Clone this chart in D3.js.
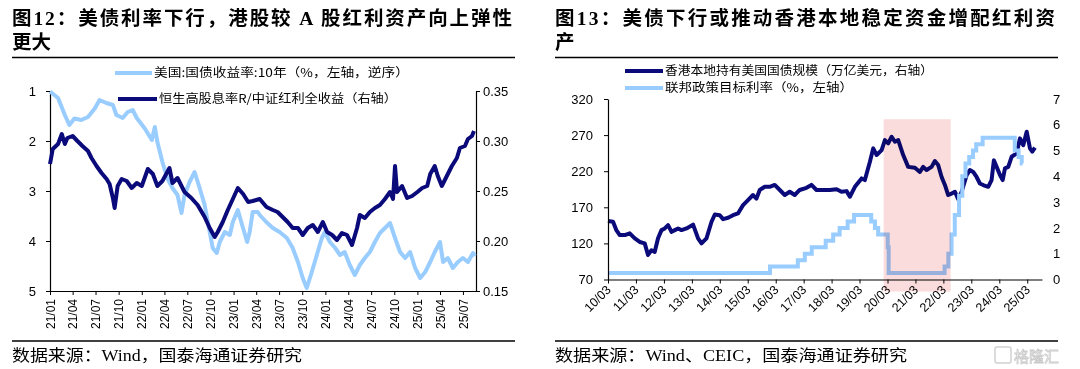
<!DOCTYPE html>
<html>
<head>
<meta charset="utf-8">
<script src="https://cdn.jsdelivr.net/npm/d3@7"></script>
<style>
body { margin: 0; background: #fff; }
svg text { font-family: "Liberation Sans", Arial, sans-serif; fill: #000; }
.cjk { font-family: "Noto Sans CJK SC", sans-serif; }
.title { font-family: "Liberation Serif", "Noto Sans CJK SC", serif; font-weight: bold; }
</style>
</head>
<body>
<svg id="chart" width="1080" height="369"></svg>
<script>
// ---- left chart data ----
var us10y = [
  ["2021-01-01",1.01],["2021-02-02",1.14],["2021-03-01",1.48],["2021-03-19",1.68],["2021-04-08",1.55],
  ["2021-05-05",1.58],["2021-06-01",1.52],["2021-06-28",1.35],["2021-07-17",1.18],["2021-08-13",1.24],
  ["2021-09-08",1.28],["2021-09-22",1.48],["2021-10-17",1.54],["2021-11-06",1.42],["2021-11-26",1.38],
  ["2021-12-12",1.54],["2022-01-13",1.75],["2022-02-10",1.98],["2022-02-22",1.72],["2022-03-04",2.02],
  ["2022-03-24",2.42],["2022-04-13",2.75],["2022-05-03",2.94],["2022-05-23",3.08],["2022-06-08",3.44],
  ["2022-06-20",3.08],["2022-07-10",2.82],["2022-07-30",2.62],["2022-08-19",2.94],["2022-09-08",3.28],
  ["2022-09-28",3.82],["2022-10-10",4.14],["2022-10-26",4.24],["2022-11-07",4.02],["2022-11-27",3.82],
  ["2022-12-17",3.88],["2022-12-29",3.62],["2023-01-18",3.38],["2023-02-04",3.68],["2023-02-24",4.02],
  ["2023-03-06",3.82],["2023-03-18",3.42],["2023-04-07",3.42],["2023-04-15",3.48],["2023-05-11",3.62],
  ["2023-06-06",3.74],["2023-07-03",3.82],["2023-08-01",3.94],["2023-08-24",4.14],["2023-09-14",4.42],
  ["2023-10-03",4.74],["2023-10-19",4.94],["2023-11-08",4.62],["2023-11-28",4.28],["2023-12-18",3.94],
  ["2023-12-30",3.82],["2024-01-19",4.02],["2024-02-09",4.14],["2024-02-28",4.28],["2024-03-18",4.22],
  ["2024-04-07",4.48],["2024-04-27",4.68],["2024-05-17",4.48],["2024-06-06",4.34],["2024-06-26",4.22],
  ["2024-07-16",4.02],["2024-08-05",3.84],["2024-08-25",3.74],["2024-09-14",3.64],["2024-10-04",3.94],
  ["2024-10-24",4.22],["2024-11-13",4.34],["2024-12-03",4.22],["2024-12-23",4.54],["2025-01-12",4.74],
  ["2025-02-01",4.62],["2025-02-21",4.42],["2025-03-11",4.22],["2025-04-01",4.02],["2025-04-13",4.42],
  ["2025-05-02",4.34],["2025-05-22",4.54],["2025-06-11",4.42],["2025-07-01",4.34],["2025-07-21",4.42],
  ["2025-08-10",4.24],["2025-08-18",4.30]
];
var yieldRatio = [
  ["2021-01-01",0.277],["2021-01-12",0.292],["2021-02-02",0.297],["2021-02-17",0.307],["2021-03-01",0.297],
  ["2021-03-11",0.303],["2021-04-01",0.305],["2021-04-20",0.300],["2021-05-10",0.295],["2021-06-01",0.290],
  ["2021-06-15",0.283],["2021-07-05",0.275],["2021-07-25",0.268],["2021-08-14",0.262],["2021-08-26",0.257],
  ["2021-09-08",0.243],["2021-09-15",0.233],["2021-09-27",0.255],["2021-10-13",0.262],["2021-11-02",0.260],
  ["2021-11-22",0.253],["2021-12-12",0.258],["2022-01-01",0.255],["2022-01-25",0.272],["2022-02-14",0.267],
  ["2022-03-04",0.255],["2022-03-24",0.260],["2022-04-21",0.273],["2022-05-03",0.258],["2022-05-23",0.263],
  ["2022-06-20",0.249],["2022-07-17",0.243],["2022-08-11",0.236],["2022-09-08",0.224],["2022-09-28",0.213],
  ["2022-10-18",0.204],["2022-10-30",0.209],["2022-11-19",0.219],["2022-12-09",0.231],["2022-12-29",0.242],
  ["2023-01-18",0.253],["2023-02-08",0.247],["2023-02-28",0.239],["2023-03-18",0.240],["2023-04-15",0.242],
  ["2023-05-12",0.234],["2023-06-06",0.231],["2023-06-25",0.229],["2023-07-15",0.224],["2023-08-04",0.219],
  ["2023-08-24",0.213],["2023-09-14",0.213],["2023-10-03",0.206],["2023-10-23",0.213],["2023-11-12",0.216],
  ["2023-12-02",0.209],["2023-12-22",0.219],["2024-01-08",0.209],["2024-01-28",0.206],["2024-02-16",0.201],
  ["2024-03-07",0.208],["2024-03-27",0.206],["2024-04-16",0.196],["2024-05-06",0.213],["2024-05-17",0.226],
  ["2024-06-06",0.223],["2024-06-26",0.229],["2024-07-16",0.233],["2024-08-05",0.236],["2024-08-25",0.242],
  ["2024-09-14",0.249],["2024-09-26",0.242],["2024-10-04",0.275],["2024-10-12",0.249],["2024-11-01",0.255],
  ["2024-11-21",0.243],["2024-12-11",0.245],["2025-01-01",0.249],["2025-01-20",0.253],["2025-02-09",0.255],
  ["2025-02-21",0.267],["2025-03-11",0.275],["2025-03-23",0.265],["2025-04-08",0.255],["2025-04-28",0.265],
  ["2025-05-18",0.275],["2025-06-07",0.283],["2025-06-19",0.293],["2025-07-09",0.295],["2025-07-21",0.302],
  ["2025-08-06",0.305],["2025-08-14",0.310]
];
var leftYTicks = [1, 2, 3, 4, 5];
var leftY2Ticks = [0.15, 0.20, 0.25, 0.30, 0.35];

// ---- right chart data ----
var hkHoldings = [
  ["2010-03-01",151],["2010-05-06",150],["2010-06-20",138],["2010-08-02",131.5],["2010-10-06",131.5],
  ["2010-12-10",134],["2011-02-14",127],["2011-04-20",122],["2011-06-24",120],["2011-08-06",104],
  ["2011-09-20",110.6],["2011-11-02",108.3],["2011-12-15",127],["2012-01-29",138.4],["2012-03-12",140.7],
  ["2012-04-24",145.3],["2012-06-08",136],["2012-07-21",138.4],["2012-09-02",140.7],["2012-10-17",138.4],
  ["2012-12-21",140.7],["2013-03-17",146],["2013-05-21",127],["2013-07-05",120],["2013-09-08",127],
  ["2013-11-13",150],["2013-12-26",160],["2014-03-01",159],["2014-04-13",153.6],["2014-06-17",155.5],
  ["2014-08-21",159],["2014-10-25",161.5],["2014-12-30",173],["2015-03-05",180],["2015-05-09",187],
  ["2015-06-23",182],["2015-08-05",194],["2015-10-09",198.4],["2015-12-13",198.4],["2016-02-17",201],
  ["2016-04-23",194],["2016-06-27",187],["2016-08-31",191.5],["2016-11-04",187],["2017-01-08",194],
  ["2017-04-07",197],["2017-06-11",201],["2017-08-16",194],["2017-09-28",194],["2018-02-06",194],
  ["2018-05-05",195],["2018-07-09",191.5],["2018-09-13",192.4],["2018-10-26",184.6],["2018-12-31",198.4],
  ["2019-03-28",210],["2019-05-10",207.7],["2019-07-15",233],["2019-08-27",251.6],["2019-10-11",242.4],
  ["2019-12-15",249.3],["2020-01-27",263],["2020-03-10",258.6],["2020-04-24",267.7],["2020-06-06",260.8],
  ["2020-07-19",263],["2020-09-22",242.4],["2020-11-26",226],["2021-02-22",224.8],["2021-04-28",219],
  ["2021-06-10",226],["2021-07-24",221.6],["2021-09-28",226],["2021-11-10",234],["2021-12-23",228.5],
  ["2022-02-06",212],["2022-03-21",201],["2022-05-03",187],["2022-06-17",189],["2022-07-30",191.5],
  ["2022-09-11",181.4],["2022-10-26",191.5],["2022-12-30",214.6],["2023-02-11",221.6],["2023-03-26",219],
  ["2023-05-09",212],["2023-06-21",203],["2023-08-03",200.8],["2023-10-08",198.4],["2023-11-21",207.7],
  ["2023-12-21",235],["2024-01-26",226],["2024-03-10",214.6],["2024-04-14",207.7],["2024-05-14",224],
  ["2024-06-26",226],["2024-08-09",240],["2024-10-14",244.7],["2024-11-26",265.5],["2025-01-08",256],
  ["2025-02-22",274.7],["2025-04-06",251.6],["2025-05-06",247],["2025-06-10",252.5]
];
var fedRate = [
  ["2010-03-01",0.25],["2015-12-17",0.5],["2016-12-15",0.75],["2017-03-16",1.0],["2017-06-15",1.25],
  ["2017-12-14",1.5],["2018-03-22",1.75],["2018-06-14",2.0],["2018-09-27",2.25],["2018-12-20",2.5],
  ["2019-08-01",2.25],["2019-09-19",2.0],["2019-10-31",1.75],["2020-03-04",1.25],["2020-03-16",0.25],
  ["2022-03-17",0.5],["2022-05-05",1.0],["2022-06-16",1.75],["2022-07-28",2.5],["2022-09-22",3.25],
  ["2022-11-03",4.0],["2022-12-15",4.5],["2023-02-02",4.75],["2023-03-23",5.0],["2023-05-04",5.25],
  ["2023-07-27",5.5],["2024-09-19",5.0],["2024-11-08",4.75],["2024-12-19",4.5],["2024-12-31",4.5]
];
var shadedPeriod = ["2020-01-10", "2022-06-05"];
var shadedTop = 292;
var rightYTicks = [70, 120, 170, 220, 270, 320];
var rightY2Ticks = [0, 1, 2, 3, 4, 5, 6, 7];
var rightXYears = d3.range(2010, 2026);

var navy = "#0a0a7a", light = "#99ccff";
var parse = d3.timeParse("%Y-%m-%d");
var fmt = d3.timeFormat("%y/%m");

var svg = d3.select("#chart");

function header(x, w, title1, title2) {
  svg.append("text").attr("class", "title").attr("x", x).attr("y", 25)
      .attr("font-size", 19.5).attr("textLength", w).attr("lengthAdjust", "spacing").text(title1);
  svg.append("text").attr("class", "title").attr("x", x).attr("y", 49)
      .attr("font-size", 19.5).text(title2);
  svg.append("line").attr("x1", x).attr("x2", x + w + 3).attr("y1", 57.5).attr("y2", 57.5)
      .attr("stroke", "#000").attr("stroke-width", 1.3);
  svg.append("line").attr("x1", x).attr("x2", x + w + 3).attr("y1", 341).attr("y2", 341)
      .attr("stroke", "#000").attr("stroke-width", 1.3);
}

function legend(x1, x2, y, color, label, tw) {
  svg.append("line").attr("x1", x1).attr("x2", x2).attr("y1", y).attr("y2", y)
      .attr("stroke", color).attr("stroke-width", 4);
  svg.append("text").attr("class", "cjk").attr("x", x2 + 2).attr("y", y + 4)
      .attr("font-size", 12).attr("textLength", tw).attr("lengthAdjust", "spacingAndGlyphs").text(label);
}

function source(x, label, tw) {
  svg.append("text").attr("class", "title").style("font-weight", "normal").attr("x", x).attr("y", 361)
      .attr("font-size", 16).attr("textLength", tw).attr("lengthAdjust", "spacingAndGlyphs").text(label);
}

function styleAxis(g) {
  g.selectAll("path").attr("stroke", "#000").attr("stroke-width", 1.2);
  g.selectAll("line").attr("stroke", "#000");
  g.selectAll("text").attr("font-size", 13).attr("fill", "#000")
      .style("font-family", "'Liberation Sans', Arial, sans-serif");
}

// ================= left chart =================
header(12, 500, "图12：美债利率下行，港股较 A 股红利资产向上弹性", "更大");

var lx = d3.scaleTime().domain([parse("2021-01-01"), parse("2025-08-22")]).range([50, 476]);
var ly = d3.scaleLinear().domain([1, 5]).range([91, 291]);
var ly2 = d3.scaleLinear().domain([0.15, 0.35]).range([291, 91]);

var lxTicks = d3.timeMonth.range(parse("2021-01-01"), parse("2025-07-02"), 3);
var gx = svg.append("g").attr("transform", "translate(0,291)")
    .call(d3.axisBottom(lx).tickValues(lxTicks).tickFormat(fmt).tickSize(4).tickSizeOuter(0));
styleAxis(gx);
gx.selectAll("text").attr("font-size", 12).attr("transform", "rotate(-90)")
    .attr("text-anchor", "end").attr("x", -8).attr("y", 0).attr("dy", "0.35em");

var gy = svg.append("g").attr("transform", "translate(50,0)")
    .call(d3.axisLeft(ly).tickValues(leftYTicks).tickFormat(d3.format("d")).tickSize(4).tickSizeOuter(0));
styleAxis(gy);
gy.selectAll("text").attr("x", -14);

var gy2 = svg.append("g").attr("transform", "translate(476,0)")
    .call(d3.axisRight(ly2).tickValues(leftY2Ticks).tickFormat(d3.format(".2f")).tickSize(4).tickSizeOuter(0));
styleAxis(gy2);
gy2.selectAll("text").attr("x", 7);

var lineL1 = d3.line().x(function(d) { return lx(parse(d[0])); }).y(function(d) { return ly(d[1]); });
var lineL2 = d3.line().x(function(d) { return lx(parse(d[0])); }).y(function(d) { return ly2(d[1]); });

svg.append("path").datum(us10y).attr("d", lineL1).attr("fill", "none")
    .attr("stroke", light).attr("stroke-width", 4).attr("stroke-linejoin", "round");
svg.append("path").datum(yieldRatio).attr("d", lineL2).attr("fill", "none")
    .attr("stroke", navy).attr("stroke-width", 4).attr("stroke-linejoin", "round");

legend(115, 152, 73, light, "美国:国债收益率:10年（%，左轴，逆序）", 255);
legend(118, 157, 99, navy, "恒生高股息率R/中证红利全收益（右轴）", 238);
source(12, "数据来源：Wind，国泰海通证券研究", 290);

// ================= right chart =================
header(555, 500, "图13：美债下行或推动香港本地稳定资金增配红利资", "产");

var rx = d3.scaleTime().domain([parse("2010-03-01"), parse("2025-09-10")]).range([608, 1042]);
var ry = d3.scaleLinear().domain([70, 320]).range([279.5, 99]);
var ry2 = d3.scaleLinear().domain([0, 7]).range([279.5, 99]);

var rxTicks = rightXYears.map(function(y) { return new Date(y, 2, 1); });

var line2a = d3.line().x(function(d) { return rx(parse(d[0])); }).y(function(d) { return ry(d[1]); });
var line2b = d3.line().curve(d3.curveStepAfter)
    .x(function(d) { return rx(parse(d[0])); }).y(function(d) { return ry2(d[1]); });

svg.append("path").datum(hkHoldings).attr("d", line2a).attr("fill", "none")
    .attr("stroke", navy).attr("stroke-width", 4).attr("stroke-linejoin", "round");
svg.append("path").datum(fedRate).attr("d", line2b).attr("fill", "none")
    .attr("stroke", light).attr("stroke-width", 4);

// shaded period, multiplied over the lines
svg.append("rect")
    .attr("x", rx(parse(shadedPeriod[0])))
    .attr("width", rx(parse(shadedPeriod[1])) - rx(parse(shadedPeriod[0])))
    .attr("y", ry(shadedTop))
    .attr("height", ry(70) + 12 - ry(shadedTop))
    .attr("fill", "#fbdcdc").style("mix-blend-mode", "multiply");

var rgx = svg.append("g").attr("transform", "translate(0,279.5)")
    .call(d3.axisBottom(rx).tickValues(rxTicks).tickFormat(fmt).tickSize(4).tickSizeOuter(0));
styleAxis(rgx);
rgx.selectAll("text").attr("font-size", 12.5).attr("text-anchor", "end")
    .attr("transform", "translate(0,8) rotate(-45)").attr("x", 0).attr("y", 0).attr("dy", "0.35em");

var rgy = svg.append("g").attr("transform", "translate(608,0)")
    .call(d3.axisLeft(ry).tickValues(rightYTicks).tickSize(4).tickSizeOuter(0));
styleAxis(rgy);
rgy.selectAll("text").attr("x", -15);

var rgy2 = svg.append("g").attr("transform", "translate(1050,0)")
    .call(d3.axisRight(ry2).tickValues(rightY2Ticks).tickFormat(d3.format("d")).tickSize(0));
styleAxis(rgy2);
rgy2.select(".domain").remove();
rgy2.selectAll("text").attr("x", 3);

legend(625, 663, 71, navy, "香港本地持有美国国债规模（万亿美元，右轴）", 268);
legend(625, 663, 88, light, "联邦政策目标利率（%，左轴）", 188);
source(555, "数据来源：Wind、CEIC，国泰海通证券研究", 352);

// watermark
var wm = svg.append("g").attr("opacity", 0.45);
wm.append("rect").attr("x", 995).attr("y", 347).attr("width", 16).attr("height", 16)
    .attr("rx", 2).attr("fill", "none").attr("stroke", "#999").attr("stroke-width", 1.5);
wm.append("text").attr("class", "cjk").attr("x", 1014).attr("y", 362).attr("font-size", 15)
    .style("fill", "none").attr("stroke", "#888").attr("stroke-width", 0.8).text("格隆汇");
</script>
</body>
</html>
